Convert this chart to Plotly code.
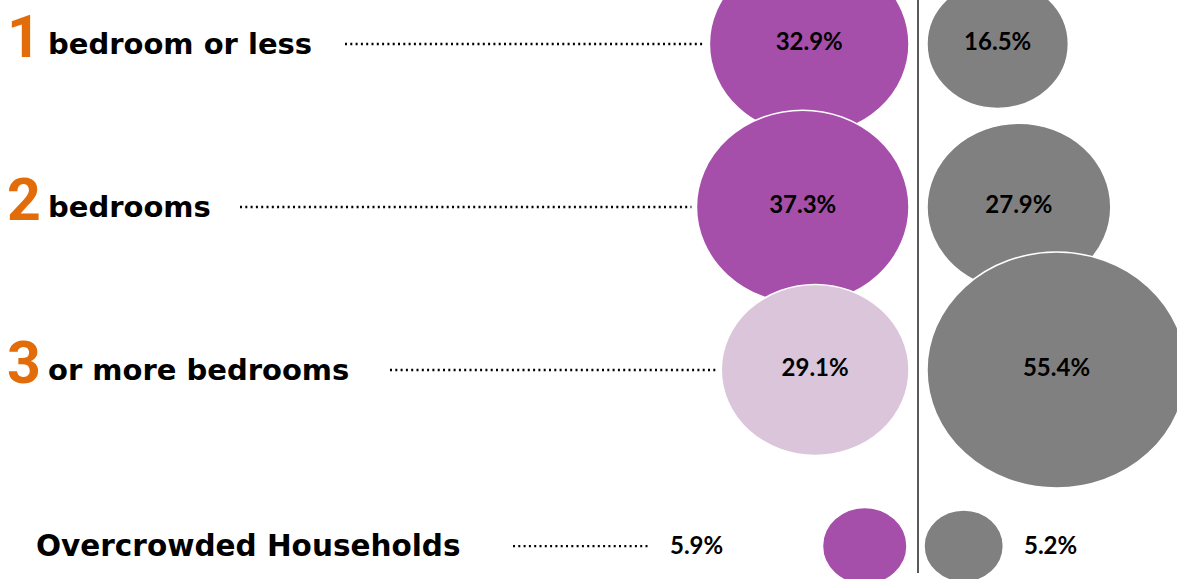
import numpy as np
import plotly.graph_objects as go

# ---- data -------------------------------------------------------------
row_numbers = ["1", "2", "3"]
row_labels = ["bedroom or less", "bedrooms", "or more bedrooms"]
purple_share = [32.9, 37.3, 29.1]
gray_share = [16.5, 27.9, 55.4]
overcrowded_label = "Overcrowded Households"
overcrowded_purple = 5.9
overcrowded_gray = 5.2

# ---- styling / layout constants --------------------------------------
PURPLE = "#A64FAA"
LIGHT_PURPLE = "#DAC5DA"
GRAY = "#808080"
ORANGE = "#E36C0A"
purple_fills = [PURPLE, PURPLE, LIGHT_PURPLE]
LABEL_FONT = "DejaVu Sans"
NUMBER_FONT = "Roboto"
VALUE_FONT = "Lato"

W, H = 1177, 579
DIVIDER_X = 918
PURPLE_RIGHT = 909          # purple bubbles hang left of the divider
GRAY_LEFT = 927             # gray bubbles start right of the divider
W_SCALE, H_SCALE = 34.8, 31.7   # px per sqrt(percent)
row_pos = [0, 1, 2]
over_pos = 3.08
leader_start = [345, 240, 390]
leader_end_gap = 5
over_leader = (513, 648)
LEADER = dict(color="black", width=2.3, dash="2px,3.3px")


def bubble_size(v):
    r = np.sqrt(v)
    return W_SCALE * r, H_SCALE * r


fig = go.Figure()
shapes = []
annotations = []


def ellipse(x_anchor, y, v, color, side):
    w, h = bubble_size(v)
    x0, x1 = (-w, 0) if side == "left" else (0, w)
    shapes.append(dict(
        type="circle", xref="x", yref="y", layer="below",
        xsizemode="pixel", ysizemode="pixel",
        xanchor=x_anchor, yanchor=y,
        x0=x0, x1=x1, y0=-h / 2, y1=h / 2,
        fillcolor=color, line=dict(color="white", width=1.5),
    ))
    return (x_anchor - w / 2) if side == "left" else (x_anchor + w / 2)


# bubbles, drawn top to bottom so each overlaps the one above
purple_cx = [ellipse(PURPLE_RIGHT, y, v, c, "left")
             for y, v, c in zip(row_pos, purple_share, purple_fills)]
gray_cx = [ellipse(GRAY_LEFT, y, v, GRAY, "right")
           for y, v in zip(row_pos, gray_share)]
ellipse(PURPLE_RIGHT - 2, over_pos, overcrowded_purple, PURPLE, "left")
ellipse(GRAY_LEFT - 3, over_pos, overcrowded_gray, GRAY, "right")

# divider
shapes.append(dict(type="line", xref="x", yref="paper",
                   x0=DIVIDER_X, x1=DIVIDER_X, y0=1, y1=1 - 573 / H,
                   line=dict(color="#222222", width=1.5)))

# dotted leaders
for y, v, xs in zip(row_pos, purple_share, leader_start):
    w, _ = bubble_size(v)
    shapes.append(dict(type="line", xref="x", yref="y",
                       x0=xs, x1=PURPLE_RIGHT - w - leader_end_gap, y0=y, y1=y,
                       line=LEADER))
shapes.append(dict(type="line", xref="x", yref="y",
                   x0=over_leader[0], x1=over_leader[1], y0=over_pos, y1=over_pos,
                   line=LEADER))

# row labels: big orange numeral raised slightly above the text line
for num, lab, y in zip(row_numbers, row_labels, row_pos):
    annotations.append(dict(x=6, y=y, xref="x", yref="y", text=f"<b>{num}</b>",
                            showarrow=False, xanchor="left", yanchor="middle",
                            yshift=8, borderpad=0,
                            font=dict(family=NUMBER_FONT, size=59, color=ORANGE)))
    annotations.append(dict(x=46, y=y, xref="x", yref="y", text=f"<b>{lab}</b>",
                            showarrow=False, xanchor="left", yanchor="middle",
                            font=dict(family=LABEL_FONT, size=29, color="black")))
annotations.append(dict(x=34, y=over_pos, xref="x", yref="y",
                        text=f"<b>{overcrowded_label}</b>",
                        showarrow=False, xanchor="left", yanchor="middle",
                        font=dict(family=LABEL_FONT, size=29.5, color="black")))

# value labels inside the bubbles
fig.add_trace(go.Scatter(
    x=purple_cx + gray_cx, y=row_pos + row_pos, mode="text",
    text=[f"<b>{v:.1f}%</b>" for v in purple_share + gray_share],
    textposition="middle center",
    textfont=dict(family=VALUE_FONT, size=24, color="black"),
    hoverinfo="skip", showlegend=False,
))
# overcrowded values sit outside their bubbles
fig.add_trace(go.Scatter(
    x=[670, 1024], y=[over_pos + 0.015, over_pos + 0.015], mode="text",
    text=[f"<b>{overcrowded_purple:.1f}%</b>", f"<b>{overcrowded_gray:.1f}%</b>"],
    textposition="middle right",
    textfont=dict(family=VALUE_FONT, size=24, color="black"),
    hoverinfo="skip", showlegend=False,
))

px_per_row = 163
top_row_px = 44
fig.update_layout(
    width=W, height=H, margin=dict(l=0, r=0, t=0, b=0),
    paper_bgcolor="white", plot_bgcolor="white",
    shapes=shapes, annotations=annotations, showlegend=False,
    xaxis=dict(range=[0, W], visible=False, fixedrange=True),
    yaxis=dict(range=[(H - top_row_px) / px_per_row, -top_row_px / px_per_row],
               visible=False, fixedrange=True),
)

fig.write_html("out.html")
